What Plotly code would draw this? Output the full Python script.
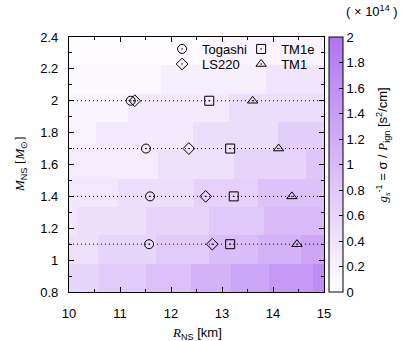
import plotly.graph_objects as go

# ---------------- data ----------------
# heatmap rows (bottom -> top): mass edges of each row
m_edges = [0.8, 0.978, 1.156, 1.333, 1.511, 1.689, 1.867, 2.044, 2.222, 2.4]
# radius edges inside each row and the value (x 1e14) of each segment
row_r_edges = [
    [10, 10.59, 11.51, 12.39, 13.18, 13.92, 14.78, 15],
    [10, 10.57, 11.7, 12.75, 13.7, 14.55, 15],
    [10, 10.18, 11.51, 12.75, 13.82, 15],
    [10, 10.96, 12.45, 13.7, 15],
    [10, 11.75, 13.24, 14.65, 15],
    [10, 10.53, 12.43, 14.1, 15],
    [10, 11.16, 13.14, 15],
    [10, 11.8, 13.86, 15],
    [10, 12.75, 15],
]
row_values = [
    [0.6, 0.75, 0.92, 1.1, 1.28, 1.46, 1.64],
    [0.45, 0.6, 0.76, 0.94, 1.12, 1.3],
    [0.36, 0.46, 0.62, 0.8, 1.0],
    [0.34, 0.48, 0.66, 0.88],
    [0.28, 0.44, 0.62, 0.82],
    [0.18, 0.32, 0.5, 0.7],
    [0.14, 0.3, 0.5],
    [0.09, 0.22, 0.38],
    [0.06, 0.18],
]

mass_levels = [2.0, 1.7, 1.4, 1.1]
togashi_R = [11.21, 11.51, 11.59, 11.57]
ls220_R = [11.29, 12.35, 12.68, 12.81]
tm1e_R = [12.75, 13.16, 13.23, 13.16]
tm1_R = [13.6, 14.11, 14.37, 14.47]

x_ticks = [10, 11, 12, 13, 14, 15]
y_ticks = [0.8, 1.0, 1.2, 1.4, 1.6, 1.8, 2.0, 2.2, 2.4]
y_ticklabels = ["0.8", "1", "1.2", "1.4", "1.6", "1.8", "2", "2.2", "2.4"]
cb_ticks = [0, 0.2, 0.4, 0.6, 0.8, 1.0, 1.2, 1.4, 1.6, 1.8, 2.0]
cb_ticklabels = ["0", "0.2", "0.4", "0.6", "0.8", "1", "1.2", "1.4", "1.6", "1.8", "2"]

# ---------------- build heatmap grid ----------------
all_edges = sorted(set(e for row in row_r_edges for e in row))
z = []
for edges, vals in zip(row_r_edges, row_values):
    zr = []
    for i in range(len(all_edges) - 1):
        mid = 0.5 * (all_edges[i] + all_edges[i + 1])
        for j in range(len(vals)):
            if edges[j] <= mid < edges[j + 1]:
                zr.append(vals[j])
                break
    z.append(zr)

FONT = "Liberation Sans, Arial, sans-serif"
SERIF = "Liberation Serif, Times New Roman, serif"
FS = 13

fig = go.Figure()
fig.add_trace(go.Heatmap(
    x=all_edges, y=m_edges, z=z, zmin=0, zmax=2,
    colorscale=[[0, "#ffffff"], [1, "#b075f3"]],
    hoverinfo="skip",
    colorbar=dict(
        x=1.02, xanchor="left", xpad=0, y=0.5, yanchor="middle", ypad=0,
        len=1, lenmode="fraction", thickness=14,
        outlinecolor="black", outlinewidth=1,
        tickvals=cb_ticks, ticktext=cb_ticklabels,
        ticks="inside", ticklen=4, tickcolor="black",
        tickfont=dict(family=FONT, size=FS, color="black"),
    ),
))

for m in mass_levels:
    fig.add_trace(go.Scatter(
        x=[x_ticks[0], x_ticks[-1]], y=[m, m], mode="lines",
        line=dict(color="black", width=1, dash="1px,3px"),
        showlegend=False, hoverinfo="skip",
    ))

series = [
    ("Togashi", togashi_R, "circle-open-dot", "legend"),
    ("LS220", ls220_R, "diamond-open-dot", "legend2"),
    ("TM1e", tm1e_R, "square-open-dot", "legend3"),
    ("TM1", tm1_R, "triangle-up-open-dot", "legend4"),
]
for name, xs, sym, lg in series:
    fig.add_trace(go.Scatter(
        x=xs, y=mass_levels, mode="markers", name=name, legend=lg,
        marker=dict(symbol=sym, size=9, color="black",
                    line=dict(color="black", width=1)),
    ))

axis_common = dict(
    showline=True, linecolor="black", linewidth=1.2, mirror="allticks",
    ticks="inside", ticklen=5, tickcolor="black", showgrid=False, zeroline=False,
    tickfont=dict(family=FONT, size=FS, color="black"),
)

legend_common = dict(
    xanchor="left", yanchor="middle", bgcolor="rgba(0,0,0,0)",
    font=dict(family=FONT, size=FS), itemwidth=30, borderwidth=0,
)

fig.update_layout(
    width=403, height=341,
    margin=dict(l=69, r=79, t=37, b=49),
    paper_bgcolor="white", plot_bgcolor="white",
    font=dict(family=FONT, size=FS, color="black"),
    xaxis=dict(range=[10, 15], tickvals=x_ticks, ticklabelstandoff=9, **axis_common,
               minor=dict(dtick=0.5, ticks="inside", ticklen=3, tickcolor="black")),
    yaxis=dict(range=[0.8, 2.4], tickvals=y_ticks, ticktext=y_ticklabels,
               ticklabelstandoff=7, **axis_common,
               minor=dict(dtick=0.1, ticks="inside", ticklen=3, tickcolor="black")),
    legend=dict(x=0.365, y=0.953, **legend_common),
    legend2=dict(x=0.365, y=0.894, **legend_common),
    legend3=dict(x=0.675, y=0.953, **legend_common),
    legend4=dict(x=0.675, y=0.894, **legend_common),
    annotations=[
        dict(text=f"<span style='font-family:{SERIF}'><i>R</i></span><sub>NS</sub> [km]",
             xref="paper", yref="paper", x=0.5, y=-0.162, xanchor="center", yanchor="middle",
             showarrow=False, font=dict(family=FONT, size=FS)),
        dict(text=f"<span style='font-family:{SERIF}'><i>M</i></span><sub>NS</sub> "
                  f"<span style='font-family:{SERIF}'>[<i>M</i><sub>⊙</sub>]</span>",
             xref="paper", yref="paper", x=-0.19, y=0.5, xanchor="center", yanchor="middle",
             textangle=-90, showarrow=False, font=dict(family=FONT, size=FS)),
        dict(text=f"<span style='font-family:{SERIF}'><i>g<sub>s</sub></i></span><sup>-1</sup> = σ / "
                  f"<span style='font-family:{SERIF}'><i>P</i></span><sub>ign</sub> [s<sup>2</sup>/cm]",
             xref="paper", yref="paper", x=1.232, y=0.575, xanchor="center", yanchor="middle",
             textangle=-90, showarrow=False, font=dict(family=FONT, size=FS)),
        dict(text="( × 10<sup>14</sup> )",
             xref="paper", yref="paper", x=1.19, y=1.1, xanchor="center", yanchor="middle",
             showarrow=False, font=dict(family=FONT, size=FS)),
    ],
)

fig.write_html("out.html")
